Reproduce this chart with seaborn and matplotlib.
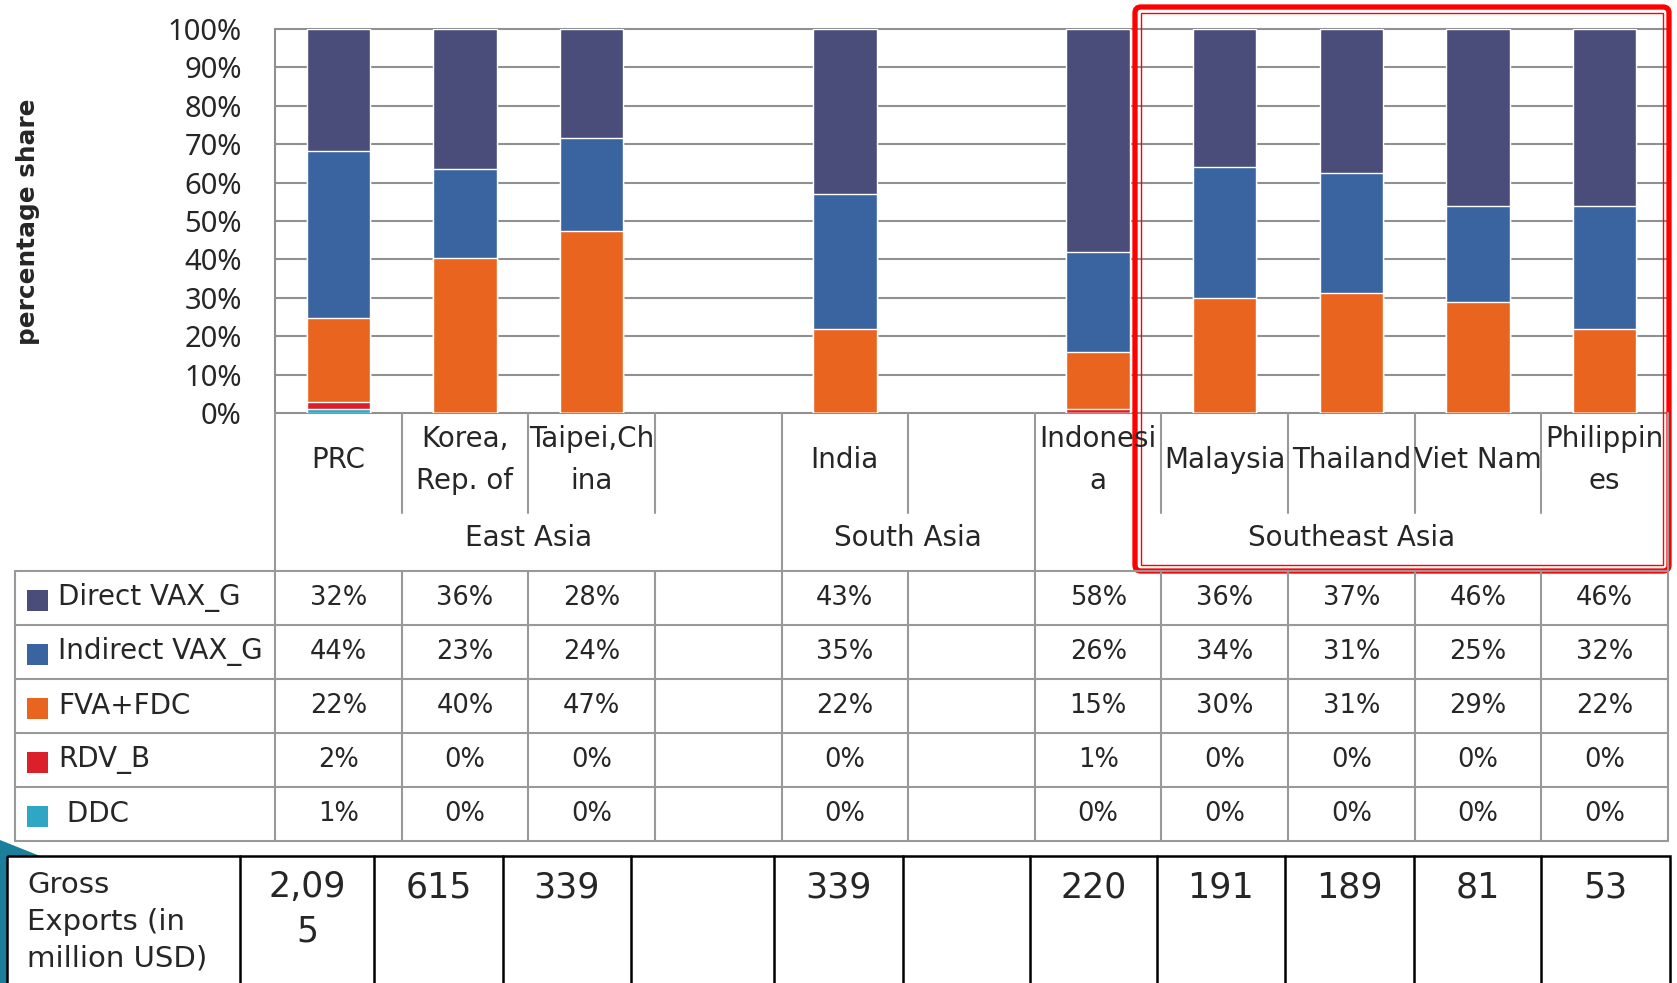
import numpy as np
import pandas as pd
import matplotlib
matplotlib.use("Agg")
import matplotlib.pyplot as plt
import seaborn as sns
from matplotlib.patches import Rectangle, FancyBboxPatch, Polygon

# ---- data ----
col_keys = ["PRC", "KOR", "TAP", "gap1", "IND", "gap2", "INO", "MAL", "THA", "VIE", "PHI"]
col_labels = ["PRC", "Korea,\nRep. of", "Taipei,Ch\nina", "", "India", "",
              "Indonesi\na", "Malaysia", "Thailand", "Viet Nam", "Philippin\nes"]
groups = ["East Asia", "South Asia", "Southeast Asia"]
group_cols = [(0, 4), (4, 6), (6, 11)]

series = ["Direct VAX_G", "Indirect VAX_G", "FVA+FDC", "RDV_B", " DDC"]
direct = [32, 36, 28, None, 43, None, 58, 36, 37, 46, 46]
indirect = [44, 23, 24, None, 35, None, 26, 34, 31, 25, 32]
fva_fdc = [22, 40, 47, None, 22, None, 15, 30, 31, 29, 22]
rdv_b = [2, 0, 0, None, 0, None, 1, 0, 0, 0, 0]
ddc = [1, 0, 0, None, 0, None, 0, 0, 0, 0, 0]
gross = ["2,09\n5", "615", "339", "", "339", "", "220", "191", "189", "81", "53"]

colors = ["#4a4c7a", "#3a64a0", "#e9641f", "#db1f2b", "#2ea6c4"]

W, H = 1677, 983
sns.set_theme(style="white")
plt.rcParams["font.family"] = ["DejaVu Sans"]

df = pd.DataFrame({"key": col_keys, "Direct VAX_G": direct, "Indirect VAX_G": indirect,
                   "FVA+FDC": fva_fdc, "RDV_B": rdv_b, " DDC": ddc}).dropna()
vals = df[series].astype(float)
shares = vals.div(vals.sum(axis=1), axis=0)
# cumulative from the bottom (DDC) up to the top (Direct)
cum = shares[series[::-1]].cumsum(axis=1)

fig = plt.figure(figsize=(W / 100, H / 100), dpi=100)
fig.patch.set_facecolor("white")

x0, x1, ytop, ybot = 275, 1668, 29, 413
ax = fig.add_axes([x0 / W, 1 - ybot / H, (x1 - x0) / W, (ybot - ytop) / H])
cw = (x1 - x0) / len(col_keys)

# draw tallest first so shorter stacks paint over
for name in series:
    plot_df = pd.DataFrame({"key": df["key"], "v": cum[name]})
    sns.barplot(data=plot_df, x="key", y="v", order=col_keys, color=colors[series.index(name)],
                saturation=1, width=0.5, errorbar=None, ax=ax, zorder=3)

ax.set_xlim(-0.5, len(col_keys) - 0.5)
ax.set_ylim(0, 1)
ticks = np.round(np.arange(0, 1.01, 0.1), 1)
for t in ticks:
    ax.axhline(t, color="#909090", lw=1.5, zorder=0, clip_on=False)
ax.set_yticks(ticks)
ax.set_yticklabels([f"{int(round(t * 100))}%" for t in ticks], fontfamily="Noto Sans", fontsize=21)
ax.tick_params(axis="y", length=0, pad=24)
ax.set_xticks([])
ax.set_xlabel("")
ax.set_ylabel("")
for s in ["top", "right", "bottom"]:
    ax.spines[s].set_visible(False)
ax.spines["left"].set_color("#909090")
ax.spines["left"].set_linewidth(1.5)
ax.set_facecolor("none")

# ---- overlay in pixel coordinates ----
ov = fig.add_axes([0, 0, 1, 1])
ov.set_xlim(0, W)
ov.set_ylim(H, 0)
ov.axis("off")
ov.patch.set_alpha(0)

gray = "#999999"
colx = [x0 + k * cw for k in range(len(col_keys) + 1)]

ov.text(28, 222, "percentage share", rotation=90, ha="center", va="center",
        fontsize=17.8, fontweight="bold")

# category label area
bounds = [g[0] for g in group_cols] + [len(col_keys)]
for k, xx in enumerate(colx):
    y_end = 571 if k in bounds else 513
    ov.plot([xx, xx], [413, y_end], color=gray, lw=1.5)
for k, lab in enumerate(col_labels):
    ov.text(x0 + (k + 0.5) * cw, 460, lab, ha="center", va="center", fontsize=20, linespacing=1.6)
for g, (a, b) in zip(groups, group_cols):
    ov.text(x0 + (a + b) / 2 * cw, 538, g, ha="center", va="center", fontsize=20)

# data table
tt, rh = 571, 54
ov.plot([15, x1], [tt, tt], color=gray, lw=1.5)
for r in range(len(series)):
    yb = tt + (r + 1) * rh
    ov.plot([15, x1], [yb, yb], color=gray, lw=1.5)
for xx in [15] + colx:
    ov.plot([xx, xx], [tt, tt + len(series) * rh], color=gray, lw=1.5)
table_vals = [direct, indirect, fva_fdc, rdv_b, ddc]
for r, name in enumerate(series):
    yc = tt + (r + 0.5) * rh
    ov.add_patch(Rectangle((27, yc - 8), 21, 21, color=colors[r], lw=0))
    ov.text(58, yc, name, ha="left", va="center", fontsize=20)
    for k, v in enumerate(table_vals[r]):
        if v is not None:
            ov.text(x0 + (k + 0.5) * cw, yc, f"{v}%", ha="center", va="center", fontsize=18.5)

# decorative slab at lower left
ov.add_patch(Polygon([(0, 840), (40, 856), (7, 856), (7, 983), (0, 983)],
                     closed=True, color="#1b7f9c", lw=0))

# gross exports table
gx = [240, 374, 503, 631, 774, 903, 1030, 1157, 1285, 1414, 1541, 1670]
ov.add_patch(Rectangle((7, 856), 1670 - 7, 140, fill=False, ec="black", lw=1.8, clip_on=False))
for xx in gx[:-1]:
    ov.plot([xx, xx], [856, 990], color="black", lw=1.8)
for line, yy in zip(["Gross", "Exports (in", "million USD)"], [885, 922, 958]):
    ov.text(27, yy, line, ha="left", va="center", fontsize=21)
for k, g in enumerate(gross):
    parts = g.split("\n")
    for i, p in enumerate(parts):
        ov.text((gx[k] + gx[k + 1]) / 2, 887 + i * 45, p, ha="center", va="center", fontsize=25)

# red highlight box around Southeast Asia
ov.add_patch(FancyBboxPatch((1135, 7), 1669 - 1135, 571 - 7,
                            boxstyle="round,pad=0,rounding_size=6",
                            fill=False, ec="#ff0000", lw=3.8))
ov.add_patch(Rectangle((1141, 13), 1663 - 1141, 565 - 13, fill=False, ec="#ff0000", lw=1.0))

fig.savefig("out.png", dpi=100, facecolor="white")
